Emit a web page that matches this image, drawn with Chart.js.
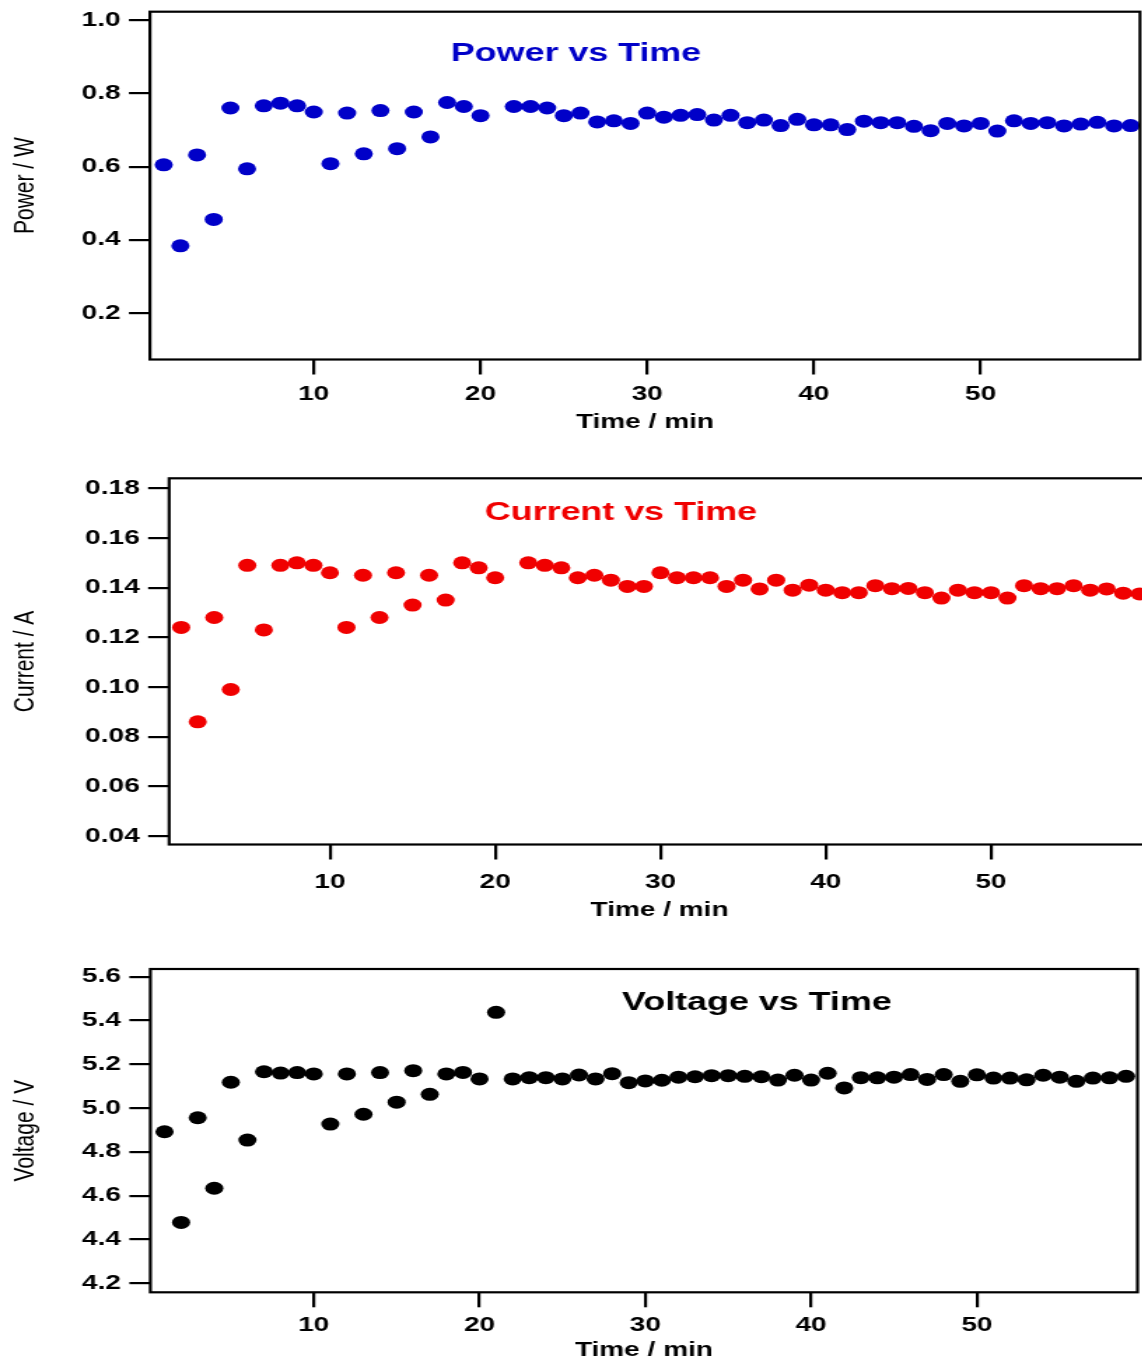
<!DOCTYPE html>
<html lang="en">
<head>
  <meta charset="UTF-8">
  <title>Power, Current and Voltage vs Time</title>
  <style>
    html, body {
      margin: 0;
      padding: 0;
      background-color: #ffffff;
      overflow: hidden;
    }
    #page {
      position: relative;
      width: 1142px;
      height: 1360px;
      overflow: hidden;
    }
    /* the plots are drawn narrow and stretched sideways, like the exported figure */
    #page canvas {
      position: absolute;
      left: 0;
      width: 1162px;
    }
  </style>
</head>
<body>
  <div id="page">
    <canvas id="powerChart" width="830" height="445" style="top:0px;height:445px"></canvas>
    <canvas id="currentChart" width="830" height="475" style="top:460px;height:475px"></canvas>
    <canvas id="voltageChart" width="830" height="430" style="top:950px;height:430px"></canvas>
  </div>

  <script src="https://cdn.jsdelivr.net/npm/chart.js"></script>
  <script>
    // measurement minute
    const times = [1, 2, 3, 4, 5, 6, 7, 8, 9, 10,
      11, 12, 13, 14, 15, 16, 17, 18, 19, 20,
      21, 22, 23, 24, 25, 26, 27, 28, 29, 30,
      31, 32, 33, 34, 35, 36, 37, 38, 39, 40,
      41, 42, 43, 44, 45, 46, 47, 48, 49, 50,
      51, 52, 53, 54, 55, 56, 57, 58, 59];

    // W (no reading at minute 21)
    const power = [0.605, 0.384, 0.632, 0.456, 0.760, 0.594, 0.766, 0.773, 0.766, 0.749,
      0.608, 0.746, 0.635, 0.753, 0.649, 0.749, 0.681, 0.775, 0.764, 0.739,
      null, 0.764, 0.764, 0.760, 0.739, 0.746, 0.722, 0.725, 0.718, 0.746,
      0.735, 0.740, 0.742, 0.727, 0.740, 0.720, 0.727, 0.712, 0.729, 0.714,
      0.714, 0.701, 0.724, 0.720, 0.720, 0.710, 0.698, 0.718, 0.711, 0.718,
      0.697, 0.725, 0.718, 0.720, 0.711, 0.716, 0.721, 0.711, 0.712];

    // A (no reading at minute 21)
    const current = [0.124, 0.086, 0.128, 0.099, 0.149, 0.123, 0.149, 0.150, 0.149, 0.146,
      0.124, 0.145, 0.128, 0.146, 0.133, 0.145, 0.135, 0.150, 0.148, 0.144,
      null, 0.150, 0.149, 0.148, 0.144, 0.145, 0.143, 0.1405, 0.1405, 0.146,
      0.144, 0.144, 0.144, 0.1405, 0.143, 0.1395, 0.143, 0.139, 0.141, 0.139,
      0.138, 0.138, 0.1408, 0.1396, 0.1397, 0.138, 0.1358, 0.139, 0.138, 0.138,
      0.1358, 0.1408, 0.1396, 0.1396, 0.1408, 0.139, 0.1395, 0.1378, 0.1375];

    // V
    const voltage = [4.892, 4.478, 4.956, 4.634, 5.118, 4.854, 5.166, 5.160, 5.162, 5.156,
      4.927, 5.156, 4.972, 5.162, 5.027, 5.171, 5.063, 5.156, 5.163, 5.133,
      5.437, 5.133, 5.139, 5.139, 5.133, 5.151, 5.133, 5.157, 5.116, 5.124,
      5.127, 5.141, 5.143, 5.148, 5.148, 5.145, 5.143, 5.128, 5.150, 5.128,
      5.159, 5.092, 5.139, 5.138, 5.141, 5.153, 5.131, 5.153, 5.122, 5.152,
      5.137, 5.137, 5.129, 5.150, 5.141, 5.122, 5.137, 5.138, 5.145];

    const timeTicks = [10, 20, 30, 40, 50];
    const powerTicks = [0.2, 0.4, 0.6, 0.8, 1.0];
    const currentTicks = [0.04, 0.06, 0.08, 0.10, 0.12, 0.14, 0.16, 0.18];
    const voltageTicks = [4.2, 4.4, 4.6, 4.8, 5.0, 5.2, 5.4, 5.6];

    const FONT = "'Liberation Sans', Arial, sans-serif";

    // closed box around the plot area
    const frame = {
      id: 'frame',
      afterDatasetsDraw(chart) {
        const { ctx, chartArea: a } = chart;
        ctx.save();
        ctx.strokeStyle = '#000';
        ctx.lineWidth = 2.2;
        ctx.strokeRect(a.left, a.top, a.right - a.left, a.bottom - a.top);
        ctx.restore();
      }
    };

    // coloured heading written inside the plot, anchored in data units
    const panelTitle = {
      id: 'panelTitle',
      afterDatasetsDraw(chart, args, opts) {
        const { ctx, scales } = chart;
        ctx.save();
        ctx.font = 'bold 25.6px ' + FONT;
        ctx.fillStyle = opts.color;
        ctx.textAlign = 'center';
        ctx.textBaseline = 'middle';
        ctx.fillText(opts.text, scales.x.getPixelForValue(opts.x), scales.y.getPixelForValue(opts.y));
        ctx.restore();
      }
    };

    const panels = [
      {
        id: 'powerChart', values: power, color: '#0000c8',
        title: 'Power vs Time', titleX: 25.73, titleY: 0.9086,
        yLabel: 'Power / W', yTicks: powerTicks, decimals: 1,
        yMin: 0.074, yMax: 1.0226, xMin: 0.174, xMax: 59.56,
        padTop: 11.7, padRight: 15.7, leftWidth: 107.1, bottomHeight: 85.5,
        xTickPad: 7.7, xTitlePad: 11
      },
      {
        id: 'currentChart', values: current, color: '#f00000',
        title: 'Current vs Time', titleX: 27.61, titleY: 0.17026,
        yLabel: 'Current / A', yTicks: currentTicks, decimals: 2,
        yMin: 0.0366, yMax: 0.18403, xMin: 0.27, xMax: 59.62,
        padTop: 18.3, padRight: 8.6, leftWidth: 120.8, bottomHeight: 90.5,
        xTickPad: 10.5, xTitlePad: 12.5
      },
      {
        id: 'voltageChart', values: voltage, color: '#000000',
        title: 'Voltage vs Time', titleX: 36.73, titleY: 5.4822,
        yLabel: 'Voltage / V', yTicks: voltageTicks, decimals: 1,
        yMin: 4.159, yMax: 5.635, xMin: 0.145, xMax: 59.69,
        padTop: 19, padRight: 17.5, leftWidth: 107.4, bottomHeight: 87.7,
        xTickPad: 5.7, xTitlePad: 17.5
      }
    ];

    function makePanel(p) {
      const points = times.map((t, i) => ({ x: t, y: p.values[i] }));
      const tickGrid = { drawOnChartArea: false, drawTicks: true, color: '#000', lineWidth: 2.2, tickLength: 15 };

      return new Chart(document.getElementById(p.id), {
        type: 'scatter',
        data: {
          datasets: [{
            data: points,
            pointRadius: 6.5,
            pointBackgroundColor: p.color,
            pointBorderColor: p.color,
            pointBorderWidth: 0
          }]
        },
        options: {
          responsive: false,
          animation: false,
          devicePixelRatio: 1,
          events: [],
          layout: { padding: { top: p.padTop, right: p.padRight, left: 0, bottom: 0 } },
          plugins: {
            legend: { display: false },
            tooltip: { enabled: false },
            panelTitle: { text: p.title, color: p.color, x: p.titleX, y: p.titleY }
          },
          scales: {
            x: {
              type: 'linear',
              bounds: 'data',
              min: p.xMin,
              max: p.xMax,
              border: { display: false },
              grid: tickGrid,
              ticks: {
                color: '#000',
                font: { family: FONT, size: 20, weight: 'bold' },
                padding: p.xTickPad,
                maxRotation: 0,
                autoSkip: false,
                callback: v => String(v)
              },
              afterBuildTicks: s => { s.ticks = timeTicks.map(v => ({ value: v })); },
              afterFit: s => { s.height = p.bottomHeight; s.paddingLeft = 0; s.paddingRight = 0; },
              title: {
                display: true,
                text: 'Time / min',
                color: '#000',
                font: { family: FONT, size: 20, weight: 'bold' },
                padding: { top: 0, bottom: p.xTitlePad }
              }
            },
            y: {
              type: 'linear',
              bounds: 'data',
              min: p.yMin,
              max: p.yMax,
              border: { display: false },
              grid: tickGrid,
              ticks: {
                color: '#000',
                font: { family: FONT, size: 20, weight: 'bold' },
                padding: 6,
                autoSkip: false,
                callback: v => Number(v).toFixed(p.decimals)
              },
              afterBuildTicks: s => { s.ticks = p.yTicks.map(v => ({ value: v })); },
              afterFit: s => { s.width = p.leftWidth; s.paddingTop = 0; s.paddingBottom = 0; },
              title: {
                display: true,
                text: p.yLabel,
                color: '#000',
                font: { family: FONT, size: 21, weight: 'normal' },
                padding: { top: 6, bottom: 0 }
              }
            }
          }
        },
        plugins: [frame, panelTitle]
      });
    }

    panels.forEach(makePanel);
  </script>
</body>
</html>
